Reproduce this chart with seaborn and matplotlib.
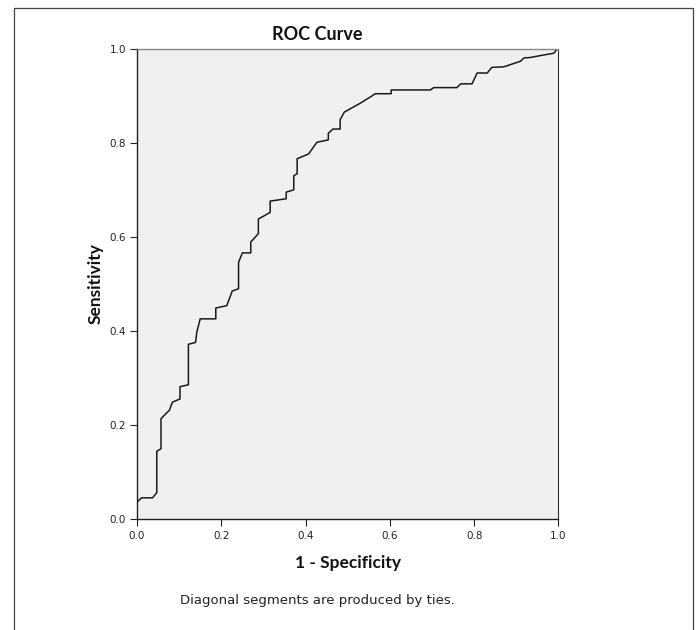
import matplotlib
matplotlib.use("Agg")
import matplotlib.pyplot as plt
from matplotlib.patches import Rectangle
import pandas as pd
import seaborn as sns

# ROC points (1 - specificity, sensitivity)
fpr = [0.000, 0.000, 0.011, 0.037, 0.047, 0.047, 0.057, 0.057, 0.070, 0.077,
       0.084, 0.102, 0.102, 0.122, 0.122, 0.139, 0.142, 0.150, 0.187, 0.187,
       0.213, 0.226, 0.241, 0.241, 0.250, 0.270, 0.270, 0.288, 0.288, 0.316,
       0.316, 0.354, 0.354, 0.372, 0.372, 0.380, 0.380, 0.407, 0.427, 0.454,
       0.454, 0.465, 0.482, 0.482, 0.492, 0.530, 0.557, 0.565, 0.603, 0.603,
       0.696, 0.704, 0.759, 0.768, 0.795, 0.807, 0.831, 0.842, 0.870, 0.910,
       0.918, 0.934, 0.957, 0.989, 0.995, 1.000]
tpr = [0.000, 0.037, 0.046, 0.046, 0.057, 0.145, 0.150, 0.214, 0.226, 0.232,
       0.249, 0.256, 0.282, 0.286, 0.372, 0.376, 0.398, 0.426, 0.426, 0.449,
       0.454, 0.485, 0.490, 0.546, 0.566, 0.566, 0.589, 0.607, 0.638, 0.652,
       0.676, 0.681, 0.695, 0.700, 0.730, 0.734, 0.766, 0.776, 0.801, 0.806,
       0.820, 0.829, 0.829, 0.849, 0.865, 0.884, 0.899, 0.904, 0.904, 0.912,
       0.912, 0.917, 0.917, 0.925, 0.925, 0.948, 0.948, 0.960, 0.961, 0.973,
       0.980, 0.981, 0.985, 0.990, 0.997, 1.000]

ticks = [0.0, 0.2, 0.4, 0.6, 0.8, 1.0]
tick_labels = ["0.0", "0.2", "0.4", "0.6", "0.8", "1.0"]

roc = pd.DataFrame({"fpr": fpr, "tpr": tpr})

sns.set_theme(style="ticks", rc={"axes.facecolor": "#f0f0f0"})
plt.rcParams["font.family"] = ["DejaVu Sans"]
label_font = ["Lato", "DejaVu Sans"]

fig = plt.figure(figsize=(6.96, 6.3), dpi=100)
ax = fig.add_axes([0.1968, 0.1754, 0.6056, 0.7476])

sns.lineplot(data=roc, x="fpr", y="tpr", sort=False, estimator=None,
             color="#1a1a1a", linewidth=1.1, ax=ax)

ax.set_xlim(0, 1)
ax.set_ylim(0, 1)
ax.set_xticks(ticks)
ax.set_xticklabels(tick_labels)
ax.set_yticks(ticks)
ax.set_yticklabels(tick_labels)
ax.tick_params(axis="both", labelsize=7.5, length=5, width=0.8,
               color="#222222", labelcolor="#222222", pad=3)

for side in ["left", "bottom"]:
    ax.spines[side].set_color("#222222")
    ax.spines[side].set_linewidth(1.0)
ax.spines["top"].set_color("#888888")
ax.spines["top"].set_linewidth(1.0)
ax.spines["right"].set_color("#333333")
ax.spines["right"].set_linewidth(0.8)

ax.set_xlabel("1 - Specificity", family=label_font, fontweight="bold",
              fontsize=12.5, va="center", color="#111111")
ax.xaxis.set_label_coords(0.5, -0.092)
ax.set_ylabel("Sensitivity", family=label_font, fontweight="bold",
              fontsize=12.5, va="center", color="#111111")
ax.yaxis.set_label_coords(-0.098, 0.5)

fig.text(0.4555, 0.946, "ROC Curve", family=label_font, fontweight="bold",
         fontsize=13, ha="center", va="center", color="#111111")
fig.text(0.4555, 0.047, "Diagonal segments are produced by ties.",
         fontsize=9.5, ha="center", va="center", color="#222222")

# outer frame around the whole output
fig.add_artist(Rectangle((0.0201, -0.01), 0.9756, 0.9973,
                         transform=fig.transFigure, fill=False,
                         edgecolor="#444444", linewidth=0.9))

fig.savefig("out.png", dpi=100)
